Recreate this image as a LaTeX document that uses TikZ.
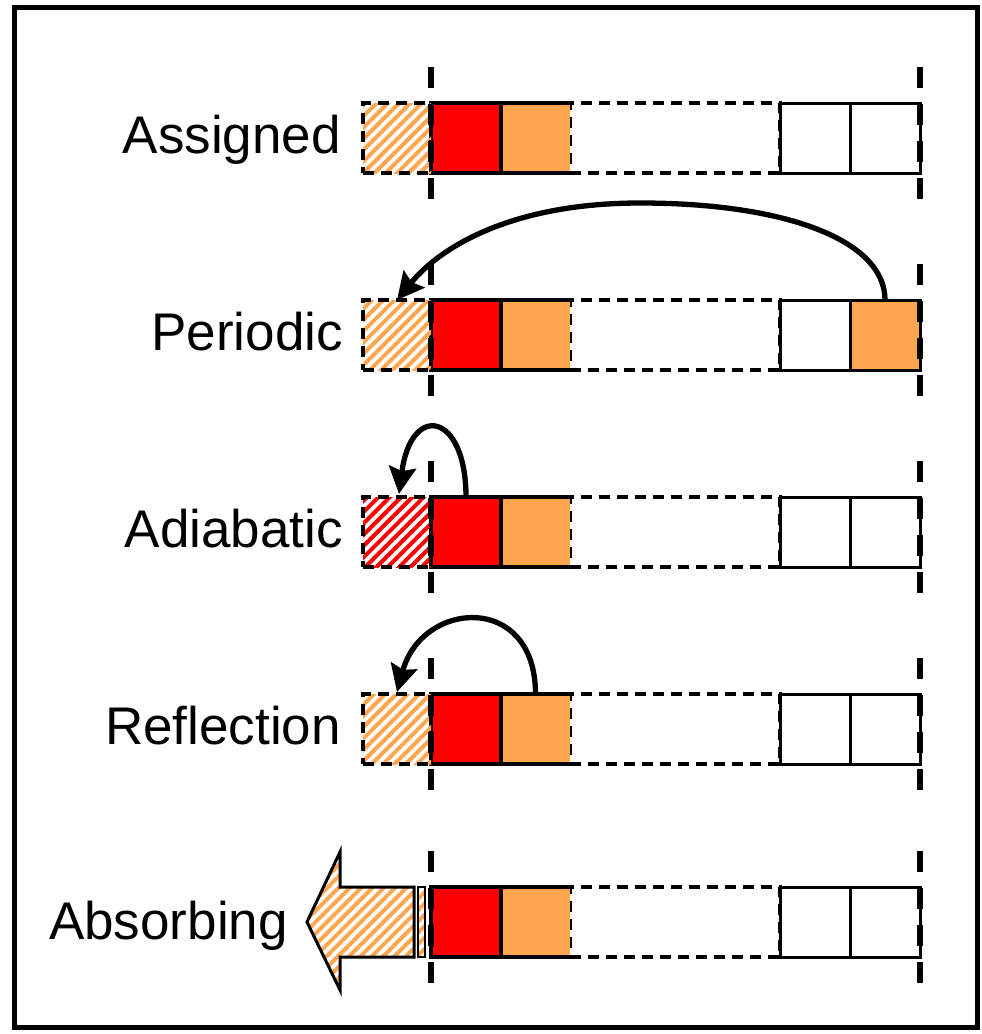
\documentclass[tikz,border=0pt]{standalone}
\usepackage{fontspec}
\setmainfont{Liberation Sans}
\usetikzlibrary{arrows.meta,patterns.meta}
\definecolor{cellred}{RGB}{255,0,0}
\definecolor{cellorange}{RGB}{255,166,79}
\tikzset{
  x=1pt, y=-1pt,
  cellbox/.style={minimum width=#1, minimum height=70pt, inner sep=0pt, outer sep=0pt, anchor=center},
  cellline/.style={line width=3.4pt},
  thincell/.style={line width=3pt},
  dashbox/.style={line width=3.4pt, dash pattern=on 11pt off 7pt},
  boundary/.style={line width=5.5pt, dash pattern=on 21pt off 16pt},
  hatch/.style={pattern={Lines[angle=45, distance=8pt, line width=4pt]}, pattern color=#1},
  lbl/.style={font=\fontsize{53}{60}\selectfont, inner sep=0pt, anchor=base east},
  looparrow/.style={line width=5.3pt, -{Stealth[length=27pt, width=27pt, inset=4pt]}},
}
% one row of cells: prefix, centre y, fill of the last cell, hatch colour of the ghost cell
\newcommand\cellrow[4]{%
  \node[cellbox=210pt, draw, dashbox] (#1m) at (675,#2) {};
  \node[cellbox=70pt, draw, thincell] (#1a) at (815,#2) {};
  \node[cellbox=70pt, draw, thincell, fill=#3] (#1b) at (885,#2) {};
  \node[cellbox=69pt, fill=cellorange] (#1o) at (535.5,#2) {};
  \draw[cellline] (#1o.north west) -- (#1o.north east) (#1o.south west) -- (#1o.south east);
  \node[cellbox=70pt, draw, cellline, fill=cellred] (#1r) at (466,#2) {};
  \ifx\relax#4\relax\else
    \node[cellbox=68pt, hatch=#4, draw, dashbox] (#1g) at (397,#2) {};
  \fi
  \draw[boundary] (431,#2-71) -- (431,#2+62);
  \draw[boundary] (920,#2-71) -- (920,#2+62);
}
\begin{document}
\begin{tikzpicture}
\useasboundingbox (0,0) rectangle (982,1034);
\draw[line width=5.5pt] (14.5,7.5) rectangle (977.5,1027.5);

% Assigned
\cellrow{s}{138}{white}{cellorange}
\node[lbl] (ls) at (341,153) {Assigned};

% Periodic
\cellrow{p}{335}{cellorange}{cellorange}
\node[lbl] (lp) at (343,350) {Periodic};
\coordinate (ptop) at (640,203);
\draw[looparrow] (pb.north) .. controls +(0,-60) and +(145,0) .. (ptop)
  .. controls +(-125,0) and +(45,-55) .. (pg.north);

% Adiabatic
\cellrow{d}{532}{white}{cellred}
\node[lbl] (ld) at (343,547) {Adiabatic};
\draw[looparrow] (dr.north) .. controls +(0,-85) and +(12,-92) .. ([xshift=2pt,yshift=3pt]dg.north);

% Reflection
\cellrow{r}{729}{white}{cellorange}
\node[lbl] (lr) at (341,744) {Reflection};
\draw[looparrow] (ro.north) .. controls +(0,-102) and +(25,-92) .. ([yshift=2pt]rg.north);

% Absorbing
\cellrow{b}{922}{white}{}
\node[lbl] (lb) at (288,939) {Absorbing};
\draw[line width=3pt, hatch=cellorange, line join=miter]
  (307,922) -- (340,852) -- (340,887) -- (414,887) -- (414,957) -- (340,957) -- (340,990) -- cycle;
\draw[line width=2.8pt, hatch=cellorange] (418,887) rectangle (425,957);
\end{tikzpicture}
\end{document}
